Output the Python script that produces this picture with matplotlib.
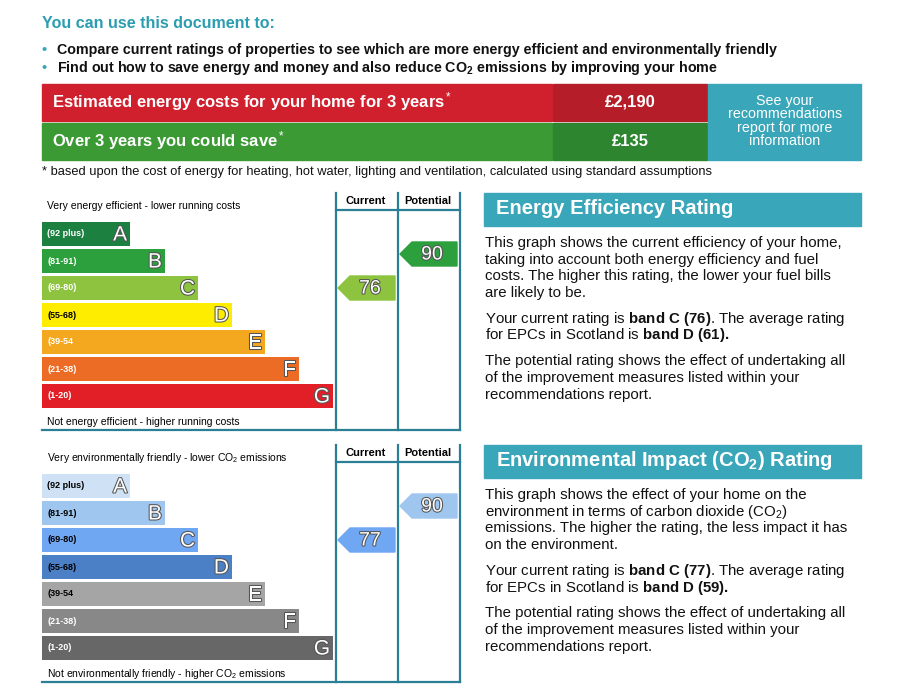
import matplotlib.pyplot as plt
from matplotlib.patches import Rectangle, Polygon
import matplotlib.patheffects as pe

plt.rcParams['font.family'] = ['Liberation Sans', 'DejaVu Sans']
plt.rcParams['mathtext.fontset'] = 'custom'
plt.rcParams['mathtext.rm'] = 'Liberation Sans'
plt.rcParams['mathtext.bf'] = 'Liberation Sans:bold'
plt.rcParams['mathtext.it'] = 'Liberation Sans:italic'

# data
bands = ['A', 'B', 'C', 'D', 'E', 'F', 'G']
ranges = ['(92 plus)', '(81-91)', '(69-80)', '(55-68)', '(39-54', '(21-38)', '(1-20)']
bar_ends = [130, 165, 198, 232, 265, 299, 333]
ee_colors = ['#1b8040', '#2ca03c', '#8dc33f', '#ffed00', '#f3a81f', '#ec6b25', '#e21f26']
co2_colors = ['#cfe2f5', '#9fc6ee', '#70a7f3', '#4b80c6', '#a5a5a5', '#888888', '#676767']
ee_current, ee_potential = 76, 90
co2_current, co2_potential = 77, 90
cost_3yr = '£2,190'
saving = '£135'

TEAL = '#3aa6b9'
fig = plt.figure(figsize=(9.01, 6.96), dpi=100)
ax = fig.add_axes([0, 0, 1, 1])
ax.set_xlim(0, 901)
ax.set_ylim(696, 0)
ax.axis('off')

ax.text(42, 23, 'You can use this document to:', color='#2a9db0', fontsize=11.5,
        fontweight='bold', va='center')
ax.text(57, 50, 'Compare current ratings of properties to see which are more energy efficient and environmentally friendly',
        fontsize=10.3, fontweight='bold', va='center', color='#111')
ax.text(57, 68, 'Find out how to save energy and money and also reduce CO$_\\mathbf{2}$ emissions by improving your home',
        fontsize=10.3, fontweight='bold', va='center', color='#111')
ax.text(41, 50, '•', color=TEAL, fontsize=10.3, fontweight='bold', va='center')
ax.text(41, 68, '•', color=TEAL, fontsize=10.3, fontweight='bold', va='center')

# cost boxes
ax.add_patch(Rectangle((42, 84), 510, 37, color='#d0202e'))
ax.add_patch(Rectangle((553, 84), 154, 37, color='#b51d29'))
ax.add_patch(Rectangle((42, 123), 510, 37, color='#3c9a35'))
ax.add_patch(Rectangle((553, 123), 154, 37, color='#2e8530'))
ax.add_patch(Rectangle((708, 84), 153, 76, color=TEAL))
ax.text(52, 102, 'Estimated energy costs for your home for 3 years$^*$', color='white',
        fontsize=12, fontweight='bold', va='center')
ax.text(52, 141, 'Over 3 years you could save$^*$', color='white',
        fontsize=12, fontweight='bold', va='center')
ax.text(630, 102, cost_3yr, color='white', fontsize=12, fontweight='bold', va='center', ha='center')
ax.text(630, 141, saving, color='white', fontsize=12, fontweight='bold', va='center', ha='center')
ax.text(785, 121, 'See your\nrecommendations\nreport for more\ninformation', color='white',
        fontsize=10.3, va='center', ha='center', linespacing=0.95)
ax.text(42, 172, '* based upon the cost of energy for heating, hot water, lighting and ventilation, calculated using standard assumptions',
        fontsize=9.3, va='center', color='#111')


def draw_chart(top, colors, cur, pot, top_label, bottom_label, dark_text):
    lc = '#2a7f95'
    for x in (336, 398, 460):
        ax.plot([x, x], [top, top + 237], color=lc, lw=1.6)
    ax.plot([336, 460], [top + 17, top + 17], color=lc, lw=1.6)
    ax.plot([42, 460], [top + 237, top + 237], color=lc, lw=1.6)
    ax.text(366, top + 8, 'Current', ha='center', va='center', fontsize=8, fontweight='bold')
    ax.text(428, top + 8, 'Potential', ha='center', va='center', fontsize=8, fontweight='bold')
    ax.text(47, top + 13, top_label, fontsize=7.5, va='center')
    ax.text(47, top + 229, bottom_label, fontsize=7.5, va='center')
    ys = [top + 41 + 27 * i for i in range(len(bands))]
    ax.barh(ys, [e - 42 for e in bar_ends], left=42, height=24, color=colors)
    for i, b in enumerate(bands):
        tcol = 'black' if dark_text[i] else 'white'
        ax.text(47, ys[i], ranges[i], fontsize=6.5, fontweight='bold', va='center', color=tcol)
        ax.text(bar_ends[i] - 3, ys[i] + 1, b, fontsize=15, ha='right', va='center', color='white',
                path_effects=[pe.withStroke(linewidth=1.5, foreground='#555')])

    def band_of(v):
        lows = [92, 81, 69, 55, 39, 21, 1]
        for i, lo in enumerate(lows):
            if v >= lo:
                return i
        return 6

    for v, x0, dy in ((cur, 338, 0), (pot, 400, -7)):
        i = band_of(v)
        y = ys[i] + dy
        ax.add_patch(Polygon([(x0, y), (x0 + 12, y - 12), (x0 + 57, y - 12), (x0 + 57, y + 12),
                              (x0 + 12, y + 12)], color=colors[i]))
        ax.text(x0 + 32, y + 1, str(v), fontsize=14, ha='center', va='center', color='white',
                path_effects=[pe.withStroke(linewidth=1.5, foreground='#555')])


draw_chart(193, ee_colors, ee_current, ee_potential,
           'Very energy efficient - lower running costs',
           'Not energy efficient - higher running costs',
           [False, False, False, True, False, False, False])
draw_chart(445, co2_colors, co2_current, co2_potential,
           'Very environmentally friendly - lower CO$_2$ emissions',
           'Not environmentally friendly - higher CO$_2$ emissions',
           [True, True, True, True, True, False, False])


def side_panel(top, title, paras):
    ax.add_patch(Rectangle((484, top), 377, 33, color=TEAL))
    ax.text(496, top + 16, title, color='white', fontsize=14.5, fontweight='bold', va='center')
    y = top + 50
    for p in paras:
        for line in p:
            ax.text(485, y, line, fontsize=10.8, va='center', color='#111')
            y += 16.7
        y += 9


side_panel(193, 'Energy Efficiency Rating', [
    ['This graph shows the current efficiency of your home,', 'taking into account both energy efficiency and fuel',
     'costs. The higher this rating, the lower your fuel bills', 'are likely to be.'],
    ['Your current rating is $\\mathbf{band\\ C\\ (76)}$. The average rating',
     'for EPCs in Scotland is $\\mathbf{band\\ D\\ (61).}$'],
    ['The potential rating shows the effect of undertaking all', 'of the improvement measures listed within your',
     'recommendations report.']])
side_panel(445, 'Environmental Impact (CO$_\\mathbf{2}$) Rating', [
    ['This graph shows the effect of your home on the', 'environment in terms of carbon dioxide (CO$_2$)',
     'emissions. The higher the rating, the less impact it has', 'on the environment.'],
    ['Your current rating is $\\mathbf{band\\ C\\ (77)}$. The average rating',
     'for EPCs in Scotland is $\\mathbf{band\\ D\\ (59).}$'],
    ['The potential rating shows the effect of undertaking all', 'of the improvement measures listed within your',
     'recommendations report.']])

fig.savefig('out.png', dpi=100)
